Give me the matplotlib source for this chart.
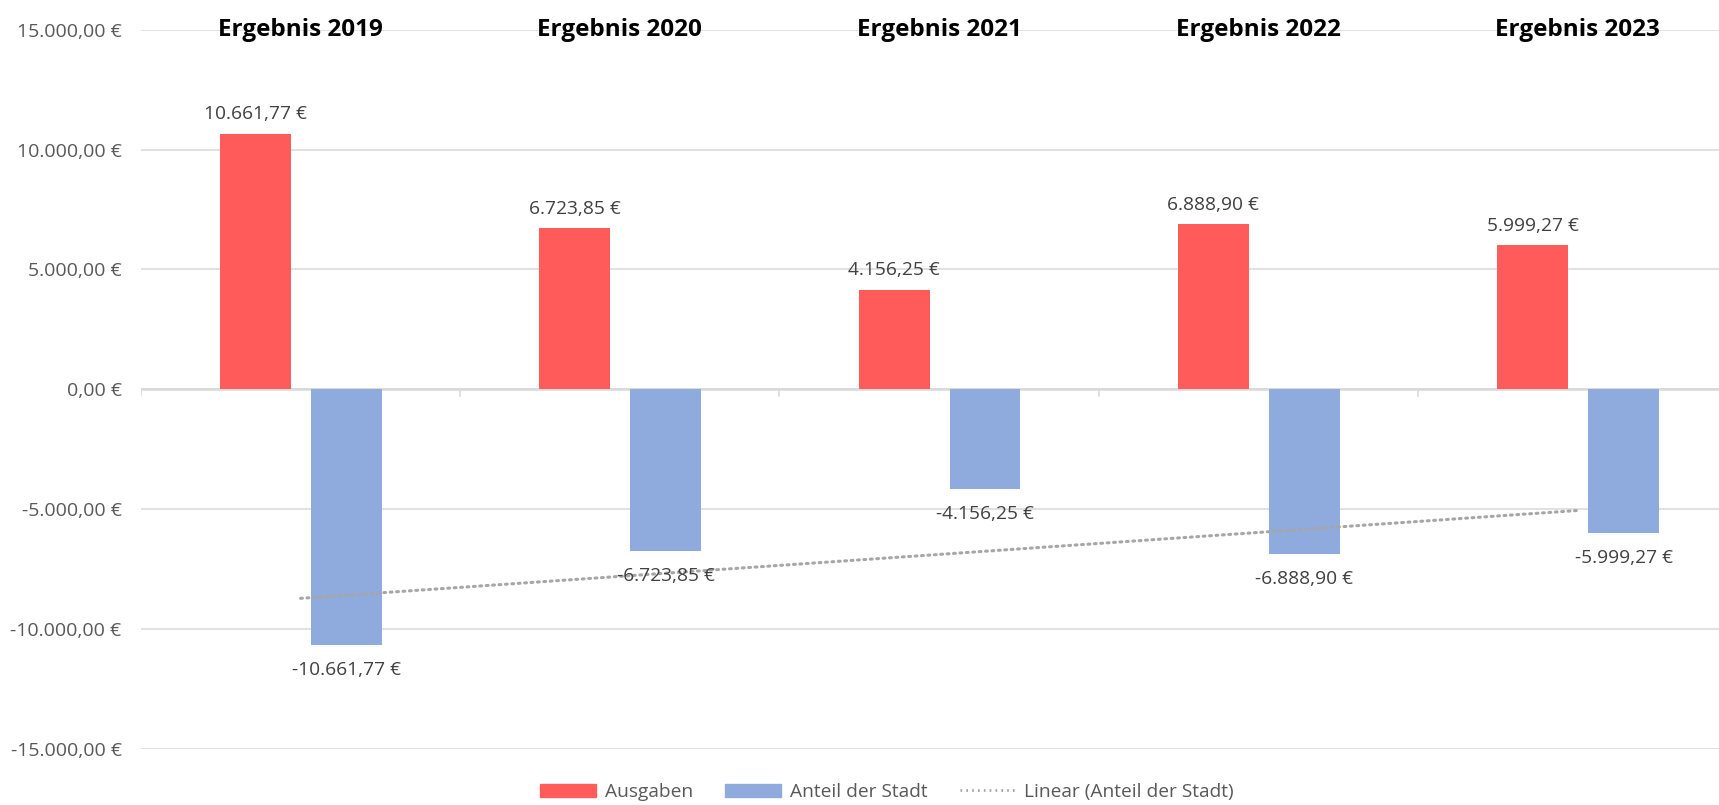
import matplotlib.pyplot as plt
import numpy as np
from matplotlib.lines import Line2D
from matplotlib.patches import Patch

plt.rcParams['font.family'] = ['Open Sans', 'DejaVu Sans']

# data
categories = ["Ergebnis 2019", "Ergebnis 2020", "Ergebnis 2021", "Ergebnis 2022", "Ergebnis 2023"]
ausgaben = [10661.77, 6723.85, 4156.25, 6888.90, 5999.27]
anteil_stadt = [-10661.77, -6723.85, -4156.25, -6888.90, -5999.27]
y_ticks = [-15000, -10000, -5000, 0, 5000, 10000, 15000]

red = "#FF5B5B"
blue = "#8FAADC"
grid_col = "#D9D9D9"


def euro(v):
    # german number format
    s = f"{v:,.2f}".replace(",", "X").replace(".", ",").replace("X", ".")
    return s + " €"


fig = plt.figure(figsize=(17.19, 8.05), dpi=100)
# plot area runs a bit past the right edge, like in the original
ax = fig.add_axes([0.0820, 0.0696, 0.9286, 0.8936])

x = np.arange(len(categories))
w = 0.222
bars1 = ax.bar(x - 0.141, ausgaben, w, color=red, zorder=2)
bars2 = ax.bar(x + 0.144, anteil_stadt, w, color=blue, zorder=2)

# linear trendline of the city share
slope, icpt = np.polyfit(x, anteil_stadt, 1)
ax.plot(x, slope * x + icpt, color="#A6A6A6", lw=2.2, linestyle=(0, (0.6, 1.5)),
        dash_capstyle="round", zorder=3)

# data labels
for b, v in zip(bars1, ausgaben):
    ax.annotate(euro(v), (b.get_x() + b.get_width() / 2, v), xytext=(0, 14),
                textcoords="offset points", ha="center", va="center",
                fontsize=13.8, color="#404040", zorder=4)
for b, v in zip(bars2, anteil_stadt):
    ax.annotate(euro(v), (b.get_x() + b.get_width() / 2, v), xytext=(0, -18),
                textcoords="offset points", ha="center", va="center",
                fontsize=13.8, color="#404040", zorder=4)

# category labels on top
for xi, c in zip(x, categories):
    ax.text(xi, 15000, c, ha="center", va="center", fontsize=17.5,
            fontweight="bold", color="black")

ax.set_xlim(-0.5, 4.5)
ax.set_ylim(-15000, 15000)
ax.set_yticks(y_ticks)
ax.set_yticklabels([euro(t) for t in y_ticks], fontsize=14, color="#595959")
ax.tick_params(axis="y", length=0, pad=14)
ax.set_xticks([])
ax.grid(axis="y", color=grid_col, lw=1.1, zorder=0)
ax.set_axisbelow(True)
for sp in ax.spines.values():
    sp.set_visible(False)

# zero axis line with category separators
ax.axhline(0, color=grid_col, lw=1.8, zorder=1)
for xs in np.arange(-0.5, 5.0, 1.0):
    ax.plot([xs, xs], [0, -280], color=grid_col, lw=1.1, zorder=1)

handles = [
    Patch(color=red, label="Ausgaben"),
    Patch(color=blue, label="Anteil der Stadt"),
    Line2D([], [], color="#A6A6A6", lw=2, linestyle=(0, (0.6, 1.5)),
           label="Linear (Anteil der Stadt)"),
]
fig.legend(handles=handles, loc="center", bbox_to_anchor=(0.516, 0.016), ncol=3,
           frameon=False, fontsize=13.8, handlelength=2.9, handleheight=0.7,
           columnspacing=1.7, handletextpad=0.45, labelcolor="#595959")

fig.savefig("out.png", dpi=100)
